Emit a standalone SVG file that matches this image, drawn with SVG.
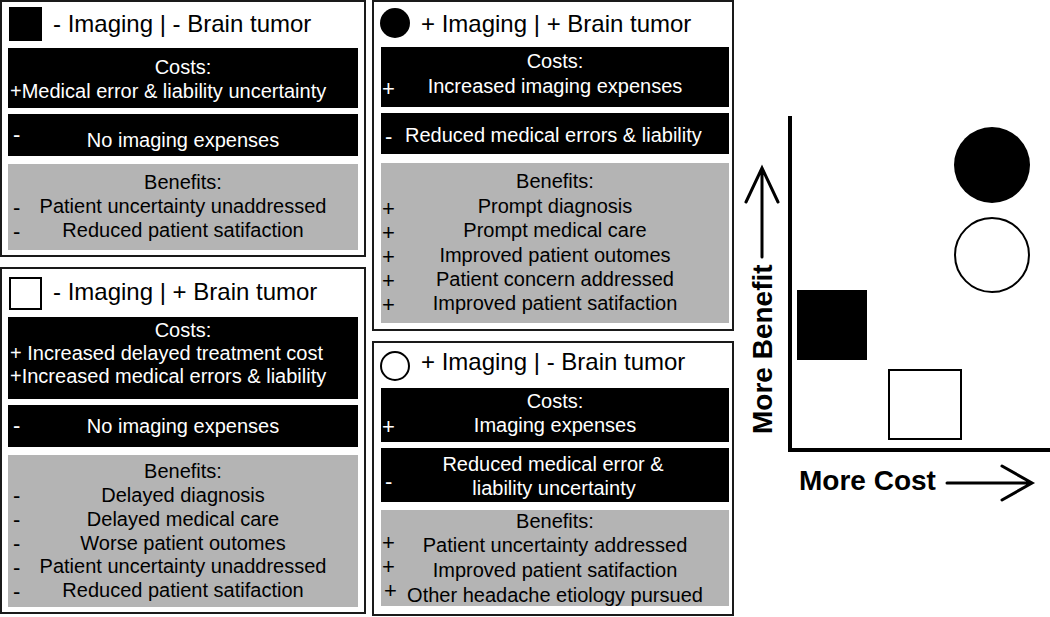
<svg xmlns="http://www.w3.org/2000/svg" width="1050" height="617" viewBox="0 0 1050 617">
<style>
text{font-family:"Liberation Sans",Arial,sans-serif;font-size:20px}
.t{font-size:24px;fill:#000}
.s{font-size:22px}
.w{fill:#fff}
.k{fill:#000}
.c{text-anchor:middle}
.frame{fill:#fff;stroke:#1a1a1a;stroke-width:2}
.blk{fill:#000}
.gry{fill:#b4b4b4}
.ax{font-size:28px;font-weight:bold;fill:#000}
.ln{stroke:#000;stroke-width:4;fill:none}
.ar{stroke:#000;stroke-width:3;fill:none;stroke-linecap:round}
</style>
<rect width="1050" height="617" fill="#fff"/>

<g id="panel-no-imaging-no-tumor">
<rect class="frame" x="1" y="1" width="364" height="255"/>
<rect x="9" y="7" width="33" height="34" class="blk"/>
<text class="t" x="53" y="32">- Imaging | - Brain tumor</text>
<rect class="blk" x="8" y="48" width="350" height="60"/>
<text class="w c" x="183" y="74">Costs:</text>
<text class="w" x="10" y="98">+Medical error &amp; liability uncertainty</text>
<rect class="blk" x="8" y="114" width="350" height="42"/>
<text class="w s" x="13" y="142">-</text>
<text class="w c" x="183" y="147">No imaging expenses</text>
<rect class="gry" x="8" y="164" width="350" height="86"/>
<text class="k c" x="183" y="189">Benefits:</text>
<text class="k s" x="13" y="215">-</text>
<text class="k c" x="183" y="213">Patient uncertainty unaddressed</text>
<text class="k s" x="13" y="239">-</text>
<text class="k c" x="183" y="237">Reduced patient satifaction</text>
</g>

<g id="panel-no-imaging-tumor">
<rect class="frame" x="1" y="268" width="364" height="345"/>
<rect x="10" y="278" width="31" height="31" fill="#fff" stroke="#000" stroke-width="2"/>
<text class="t" x="53" y="300">- Imaging | + Brain tumor</text>
<rect class="blk" x="8" y="317" width="350" height="82"/>
<text class="w c" x="183" y="337">Costs:</text>
<text class="w" x="10" y="360">+ Increased delayed treatment cost</text>
<text class="w" x="10" y="383">+Increased medical errors &amp; liability</text>
<rect class="blk" x="8" y="405" width="350" height="42"/>
<text class="w s" x="13" y="433">-</text>
<text class="w c" x="183" y="433">No imaging expenses</text>
<rect class="gry" x="8" y="455" width="350" height="152"/>
<text class="k c" x="183" y="478">Benefits:</text>
<text class="k s" x="13" y="503">-</text>
<text class="k c" x="183" y="502">Delayed diagnosis</text>
<text class="k s" x="13" y="527">-</text>
<text class="k c" x="183" y="526">Delayed medical care</text>
<text class="k s" x="13" y="551">-</text>
<text class="k c" x="183" y="550">Worse patient outomes</text>
<text class="k s" x="13" y="575">-</text>
<text class="k c" x="183" y="573">Patient uncertainty unaddressed</text>
<text class="k s" x="13" y="599">-</text>
<text class="k c" x="183" y="597">Reduced patient satifaction</text>
</g>

<g id="panel-imaging-tumor">
<rect class="frame" x="373" y="1" width="360" height="329"/>
<circle cx="395" cy="23" r="15" class="blk"/>
<text class="t" x="421" y="32">+ Imaging | + Brain tumor</text>
<rect class="blk" x="381" y="47" width="348" height="60"/>
<text class="w c" x="555" y="68">Costs:</text>
<text class="w s" x="382" y="96">+</text>
<text class="w c" x="555" y="93">Increased imaging expenses</text>
<rect class="blk" x="381" y="113" width="348" height="41"/>
<text class="w s" x="385" y="144">-</text>
<text class="w" x="405" y="142">Reduced medical errors &amp; liability</text>
<rect class="gry" x="381" y="163" width="348" height="160"/>
<text class="k c" x="555" y="188">Benefits:</text>
<text class="k s" x="382" y="216">+</text>
<text class="k c" x="555" y="213">Prompt diagnosis</text>
<text class="k s" x="382" y="240">+</text>
<text class="k c" x="555" y="237">Prompt medical care</text>
<text class="k s" x="382" y="264">+</text>
<text class="k c" x="555" y="262">Improved patient outomes</text>
<text class="k s" x="382" y="288">+</text>
<text class="k c" x="555" y="286">Patient concern addressed</text>
<text class="k s" x="382" y="312">+</text>
<text class="k c" x="555" y="310">Improved patient satifaction</text>
</g>

<g id="panel-imaging-no-tumor">
<rect class="frame" x="373" y="342" width="360" height="273"/>
<circle cx="395" cy="366" r="14" fill="#fff" stroke="#000" stroke-width="2"/>
<text class="t" x="421" y="370">+ Imaging | - Brain tumor</text>
<rect class="blk" x="381" y="388" width="348" height="54"/>
<text class="w c" x="555" y="408">Costs:</text>
<text class="w s" x="382" y="434">+</text>
<text class="w c" x="555" y="432">Imaging expenses</text>
<rect class="blk" x="381" y="448" width="348" height="54"/>
<text class="w s" x="385" y="489">-</text>
<text class="w c" x="553" y="471">Reduced medical error &amp;</text>
<text class="w c" x="554" y="495">liability uncertainty</text>
<rect class="gry" x="381" y="510" width="348" height="96"/>
<text class="k c" x="555" y="528">Benefits:</text>
<text class="k s" x="382" y="550">+</text>
<text class="k c" x="555" y="552">Patient uncertainty addressed</text>
<text class="k s" x="382" y="574">+</text>
<text class="k c" x="555" y="577">Improved patient satifaction</text>
<text class="k s" x="384" y="598">+</text>
<text class="k c" x="555" y="602">Other headache etiology pursued</text>
</g>

<g id="chart">
<path class="ln" d="M790 116 V450 H1050"/>
<circle id="pt-imaging-tumor" cx="992" cy="165" r="38" fill="#000"/>
<circle id="pt-imaging-no-tumor" cx="992" cy="255" r="37" fill="#fff" stroke="#000" stroke-width="2"/>
<rect id="pt-no-imaging-no-tumor" x="797" y="290" width="70" height="70" fill="#000"/>
<rect id="pt-no-imaging-tumor" x="889" y="370" width="72" height="69" fill="#fff" stroke="#000" stroke-width="2"/>
<text class="ax" transform="translate(772 434) rotate(-90)">More Benefit</text>
<text class="ax" x="799" y="490">More Cost</text>
</g>

<g id="connectors">
<path class="ar" d="M762 257 V168 M746 202 L762 168 L778 202"/>
<path class="ar" d="M947 483 H1032 M1002 466 L1032 483 L1002 500"/>
</g>
</svg>
